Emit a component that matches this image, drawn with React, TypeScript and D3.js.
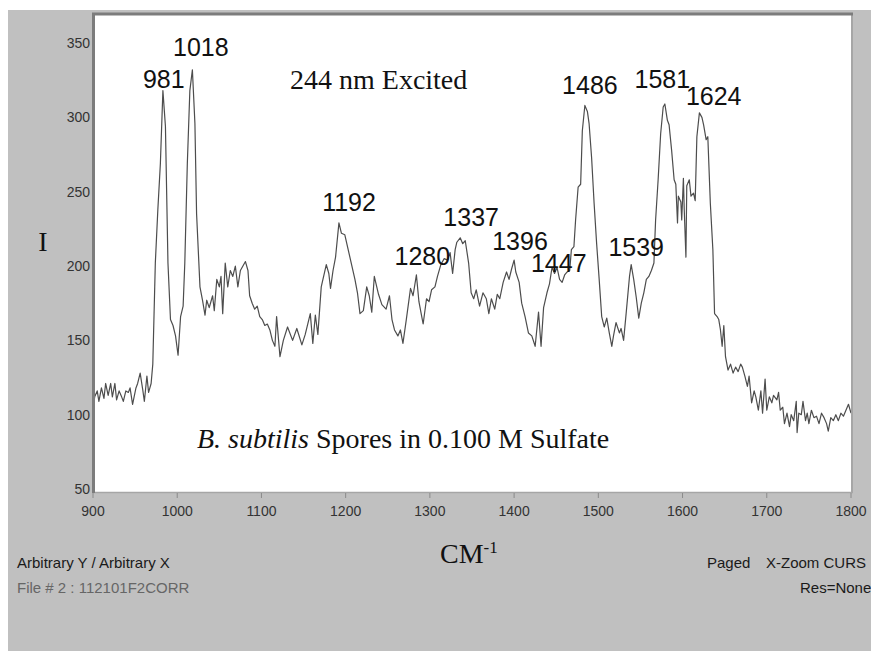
import React from "react";
import { scaleLinear, line } from "d3";

// Raman spectrum (cm-1 / counts)
const waveNumbers = [
  900, 902, 905, 907, 910, 913, 915, 918, 921, 923, 926, 928, 931, 934, 936, 939, 942, 944, 947, 951,
  953, 956, 959, 961, 964, 966, 969, 971, 974, 977, 980, 983, 986, 989, 992, 995, 998, 1001, 1004, 1007,
  1009, 1012, 1015, 1018, 1021, 1023, 1027, 1030, 1033, 1035, 1038, 1042, 1044, 1047, 1050, 1052, 1054, 1057, 1060, 1063,
  1066, 1069, 1072, 1075, 1078, 1081, 1084, 1086, 1089, 1092, 1095, 1098, 1101, 1104, 1107, 1110, 1113, 1116, 1118, 1122,
  1126, 1131, 1137, 1142, 1148, 1152, 1158, 1161, 1164, 1167, 1171, 1177, 1180, 1182, 1185, 1188, 1192, 1195, 1199, 1205,
  1211, 1214, 1217, 1221, 1225, 1228, 1231, 1234, 1239, 1243, 1248, 1252, 1255, 1258, 1262, 1265, 1268, 1272, 1277, 1280,
  1284, 1287, 1290, 1292, 1296, 1299, 1302, 1306, 1309, 1313, 1317, 1321, 1324, 1327, 1330, 1332, 1336, 1339, 1342, 1346,
  1349, 1352, 1355, 1359, 1363, 1367, 1370, 1373, 1377, 1380, 1383, 1387, 1391, 1394, 1397, 1400, 1402, 1406, 1409, 1413,
  1417, 1421, 1425, 1429, 1432, 1435, 1439, 1442, 1445, 1448, 1451, 1454, 1457, 1460, 1463, 1466, 1468, 1471, 1473, 1476,
  1479, 1481, 1484, 1487, 1489, 1492, 1495, 1498, 1501, 1504, 1507, 1510, 1513, 1516, 1518, 1521, 1525, 1527, 1530, 1533,
  1537, 1539, 1542, 1545, 1548, 1551, 1554, 1557, 1560, 1563, 1566, 1568, 1571, 1574, 1577, 1579, 1582, 1584, 1587, 1590,
  1592, 1594, 1595, 1598, 1599, 1601, 1602, 1604, 1605, 1608, 1610, 1613, 1615, 1617, 1620, 1623, 1625, 1628, 1630, 1633,
  1636, 1638, 1641, 1643, 1645, 1647, 1649, 1651, 1654, 1657, 1660, 1663, 1666, 1669, 1671, 1674, 1677, 1679, 1682, 1685,
  1687, 1690, 1693, 1695, 1698, 1700, 1703, 1706, 1708, 1712, 1714, 1716, 1719, 1721, 1724, 1727, 1729, 1732, 1735, 1736,
  1738, 1741, 1743, 1746, 1748, 1750, 1753, 1756, 1759, 1762, 1765, 1768, 1771, 1773, 1776, 1779, 1782, 1785, 1788, 1791,
  1794, 1797, 1800,
];

const intensity = [
  104, 112, 116, 109, 118, 111, 121, 113, 121, 112, 121, 110, 116, 112, 109, 116, 115, 118, 107, 118,
  121, 128, 117, 109, 126, 115, 121, 134, 202, 238, 269, 318, 294, 202, 164, 160, 153, 140, 166, 173,
  202, 269, 318, 332, 296, 235, 186, 177, 167, 177, 172, 180, 170, 191, 186, 193, 168, 202, 186, 197,
  193, 200, 186, 197, 200, 203, 197, 180, 175, 171, 173, 166, 164, 160, 161, 157, 150, 146, 166, 139,
  150, 159, 150, 158, 147, 154, 168, 148, 167, 154, 186, 201, 195, 185, 197, 206, 229, 222, 221, 206,
  191, 182, 168, 170, 186, 180, 169, 193, 181, 174, 171, 180, 164, 157, 153, 157, 148, 164, 185, 180,
  194, 176, 167, 161, 178, 176, 184, 186, 193, 201, 205, 204, 209, 195, 211, 216, 219, 215, 217, 202,
  182, 178, 184, 173, 182, 178, 168, 178, 171, 181, 178, 189, 196, 191, 198, 204, 196, 189, 175, 166,
  155, 153, 146, 169, 146, 172, 182, 188, 199, 195, 199, 191, 189, 194, 196, 197, 211, 213, 231, 253,
  255, 291, 308, 304, 296, 273, 242, 215, 191, 166, 159, 165, 155, 146, 153, 162, 155, 158, 150, 168,
  193, 201, 191, 179, 165, 175, 182, 191, 193, 197, 202, 231, 258, 289, 307, 309, 298, 295, 278, 258,
  255, 229, 247, 243, 231, 259, 238, 206, 254, 258, 247, 249, 244, 287, 303, 300, 295, 285, 287, 242,
  211, 168, 166, 164, 157, 146, 160, 139, 130, 134, 128, 132, 129, 134, 132, 126, 119, 126, 108, 116,
  112, 103, 116, 101, 124, 103, 112, 108, 113, 110, 115, 103, 105, 94, 101, 92, 100, 96, 109, 88,
  101, 100, 109, 96, 101, 94, 103, 98, 99, 94, 101, 98, 94, 89, 98, 96, 100, 96, 101, 99,
  103, 107, 101,
];

// peak labels: text, anchor wavenumber (label centre), anchor intensity (baseline)
const peakLabels: [string, number, number][] = [
  ["981", 984, 320],
  ["1018", 1028, 341],
  ["1192", 1204, 237],
  ["1280", 1291, 201],
  ["1337", 1349, 227],
  ["1396", 1407, 211],
  ["1447", 1453, 196],
  ["1486", 1490, 316],
  ["1539", 1545, 207],
  ["1581", 1576, 319.5],
  ["1624", 1637, 308],
];

const xTicks = [900, 1000, 1100, 1200, 1300, 1400, 1500, 1600, 1700, 1800];
const yTicks = [50, 100, 150, 200, 250, 300, 350];

const serif = "'Liberation Serif', 'Times New Roman', serif";
const sans = "'Liberation Sans', Arial, sans-serif";

export default function App() {
  const W = 871;
  const H = 651;
  const left = 93;
  const right = 851;
  const top = 13;
  const bottom = 492;

  const x = scaleLinear().domain([900, 1800]).range([left, right]);
  const y = scaleLinear().domain([48, 370.2]).range([bottom, top]);

  const pts: [number, number][] = waveNumbers.map((w, i) => [x(w), y(intensity[i])]);
  const path = line()(pts) || "";

  return (
    <div style={{ position: "fixed", left: 0, top: 0 }}>
      <svg width={W} height={H} style={{ display: "block", background: "#ffffff" }}>
        <rect x={8} y={10} width={W - 8} height={H - 10} fill="#c0c0c0" />
        <rect x={left} y={top} width={right - left} height={bottom - top} fill="#ffffff" />

        <path d={path} fill="none" stroke="#4d4d4d" strokeWidth={1.2} strokeLinejoin="round" />

        {/* frame */}
        <line x1={right + 1} y1={top} x2={right + 1} y2={bottom + 1} stroke="#a6a6a6" strokeWidth={2} />
        <line x1={left} y1={bottom + 0.5} x2={right + 2} y2={bottom + 0.5} stroke="#a6a6a6" strokeWidth={1.5} />
        <line x1={left - 1} y1={top + 1} x2={right + 2} y2={top + 1} stroke="#7c7c7c" strokeWidth={3} />
        <line x1={left + 0.5} y1={top} x2={left + 0.5} y2={bottom + 1} stroke="#7c7c7c" strokeWidth={3} />

        {/* x axis */}
        {xTicks.map((t) => (
          <g key={t}>
            <line x1={x(t)} y1={bottom + 1} x2={x(t)} y2={bottom + 6} stroke="#8a8a8a" strokeWidth={1} />
            <text x={x(t)} y={516} textAnchor="middle" fontFamily={sans} fontSize={14} fill="#333333">
              {t}
            </text>
          </g>
        ))}

        {/* y axis */}
        {yTicks.map((t) => (
          <text key={t} x={90} y={y(t) + 5} textAnchor="end" fontFamily={sans} fontSize={14} fill="#333333">
            {t}
          </text>
        ))}

        <text x={43} y={251} textAnchor="middle" fontFamily={serif} fontSize={28} fill="#111111">
          I
        </text>
        <text x={440} y={563} fontFamily={serif} fontSize={28} fill="#111111">
          CM
          <tspan fontSize={17} dy={-10}>-1</tspan>
        </text>

        {/* peak labels */}
        {peakLabels.map(([label, w, v]) => (
          <text key={label} x={x(w)} y={y(v)} textAnchor="middle" fontFamily={sans} fontSize={25} fill="#111111">
            {label}
          </text>
        ))}

        <text x={290} y={89} fontFamily={serif} fontSize={28} fill="#111111">
          244 nm Excited
        </text>
        <text x={197} y={448} fontFamily={serif} fontSize={28} fill="#111111">
          <tspan fontStyle="italic">B. subtilis</tspan> Spores in 0.100 M Sulfate
        </text>

        {/* footer */}
        <text x={17} y={568} fontFamily={sans} fontSize={15} fill="#1a1a1a">
          Arbitrary Y / Arbitrary X
        </text>
        <text x={17} y={593} fontFamily={sans} fontSize={15} fill="#666666">
          File # 2 : 112101F2CORR
        </text>
        <text x={707} y={568} fontFamily={sans} fontSize={15} fill="#1a1a1a">
          Paged
        </text>
        <text x={766} y={568} fontFamily={sans} fontSize={15} fill="#1a1a1a">
          X-Zoom CURS
        </text>
        <text x={800} y={593} fontFamily={sans} fontSize={15} fill="#1a1a1a">
          Res=None
        </text>
      </svg>
    </div>
  );
}
